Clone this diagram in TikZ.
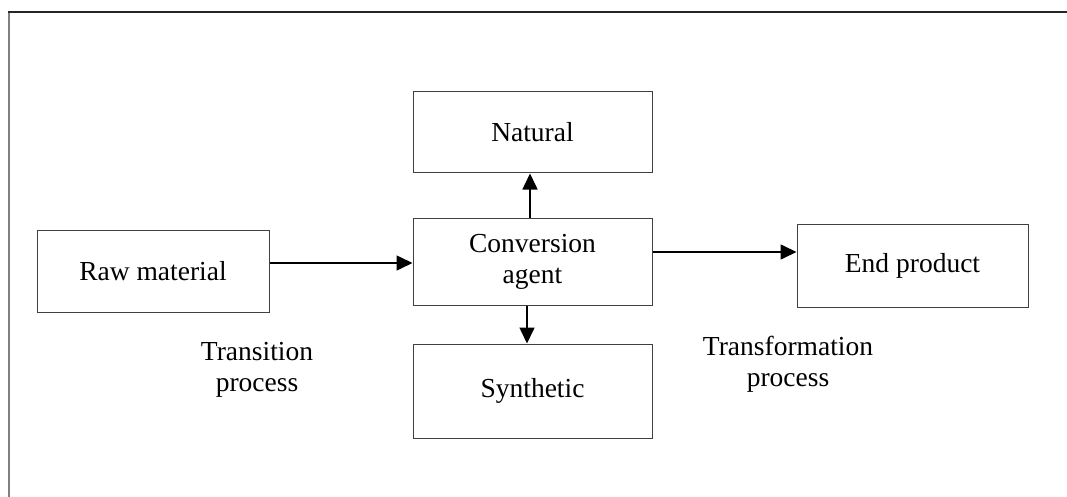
\documentclass[tikz,border=0pt]{standalone}
\usepackage{fontspec}
\setmainfont{Liberation Serif}
\usetikzlibrary{arrows.meta}
\begin{document}
\begin{tikzpicture}[x=1pt, y=-1pt,
  box/.style={draw=black!75, line width=1pt, inner sep=0pt, align=center,
    font=\fontsize{27.5}{31}\selectfont},
  note/.style={align=center, font=\fontsize{27.5}{31}\selectfont},
  arr/.style={line width=1.6pt, -{Triangle[length=16pt,width=15pt]}}]
\useasboundingbox (0,0) rectangle (1067,497);
\draw[black!50, line width=2.5pt] (9,497) -- (9,12);
\draw[black!85, line width=1.2pt] (8,12) -- (1067,12);
\node[box, minimum width=232, minimum height=82] (raw) at (153,271) {Raw material};
\node[box, minimum width=239, minimum height=81] (natural) at (532.5,132.5) {Natural};
\node[box, minimum width=239, minimum height=87] (conv) at (532.5,261.5) {Conversion\\agent};
\node[box, minimum width=239, minimum height=94] (synth) at (532.5,391) {Synthetic};
\node[box, minimum width=231, minimum height=83] (end) at (912.5,265.5) {End product};
\node[note] (transition) at (257,370) {Transition\\process};
\node[note] (transform) at (788,364) {Transformation\\process};
\draw[arr] (raw.east |- 0,263) -- (conv.west |- 0,263);
\draw[arr] (conv.east |- 0,252) -- (end.west |- 0,252);
\draw[arr] (conv.north -| 530,0) -- (natural.south -| 530,0);
\draw[arr] (conv.south -| 527,0) -- (synth.north -| 527,0);
\end{tikzpicture}
\end{document}
